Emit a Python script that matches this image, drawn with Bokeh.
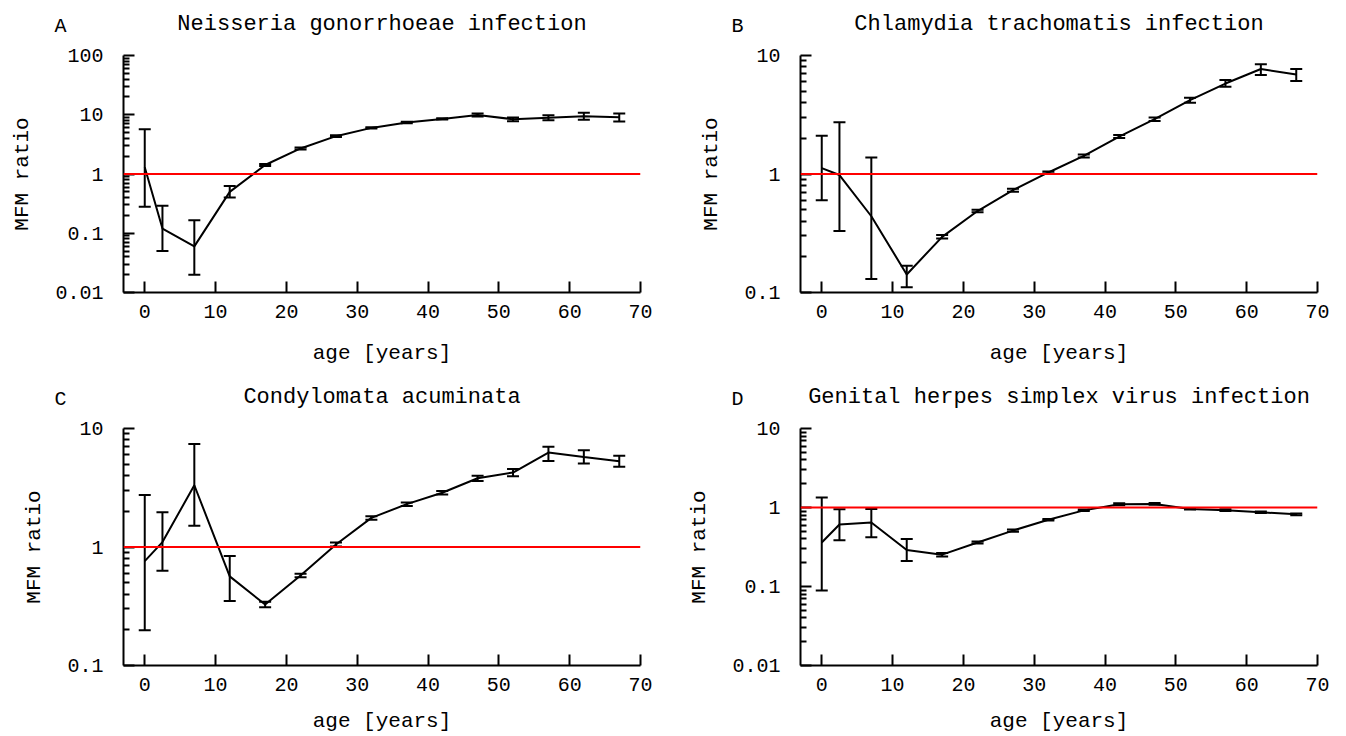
from bokeh.plotting import figure
from bokeh.layouts import column, row
from bokeh.models import (ColumnDataSource, Whisker, TeeHead, Span, Label,
                          FixedTicker, CustomJSTickFormatter)
from bokeh.embed import file_html
from bokeh.resources import INLINE

FONT = "Liberation Mono"

ages = [0, 2.5, 7, 12, 17, 22, 27, 32, 37, 42, 47, 52, 57, 62, 67]

ng_mid = [1.3, 0.12, 0.06, 0.5, 1.42, 2.7, 4.35, 6.0, 7.4, 8.5, 9.9, 8.4, 8.9, 9.4, 9.1]
ng_lo = [0.28, 0.05, 0.02, 0.40, 1.36, 2.6, 4.2, 5.85, 7.2, 8.3, 9.3, 7.8, 8.1, 8.2, 7.7]
ng_hi = [5.7, 0.29, 0.166, 0.63, 1.48, 2.8, 4.5, 6.15, 7.6, 8.75, 10.5, 9.0, 9.8, 10.8, 10.5]

ct_mid = [1.12, 0.98, 0.44, 0.142, 0.295, 0.487, 0.73, 1.03, 1.42, 2.07, 2.9, 4.2, 5.8, 7.7, 6.9]
ct_lo = [0.6, 0.33, 0.13, 0.111, 0.285, 0.475, 0.71, 1.01, 1.38, 2.01, 2.8, 4.0, 5.45, 6.85, 6.1]
ct_hi = [2.1, 2.73, 1.38, 0.168, 0.305, 0.5, 0.75, 1.05, 1.46, 2.13, 3.0, 4.4, 6.2, 8.45, 7.7]

ca_mid = [0.76, 1.1, 3.32, 0.565, 0.327, 0.575, 1.05, 1.76, 2.3, 2.87, 3.8, 4.25, 6.27, 5.76, 5.3]
ca_lo = [0.198, 0.63, 1.51, 0.35, 0.31, 0.555, 1.01, 1.7, 2.22, 2.77, 3.6, 3.95, 5.33, 5.06, 4.75]
ca_hi = [2.75, 1.96, 7.4, 0.84, 0.345, 0.595, 1.09, 1.82, 2.38, 2.97, 4.0, 4.55, 7.0, 6.55, 5.9]

hsv_mid = [0.36, 0.61, 0.645, 0.29, 0.253, 0.36, 0.51, 0.70, 0.92, 1.10, 1.11, 0.96, 0.925, 0.87, 0.82]
hsv_lo = [0.089, 0.385, 0.42, 0.21, 0.24, 0.35, 0.495, 0.685, 0.90, 1.07, 1.08, 0.94, 0.90, 0.85, 0.80]
hsv_hi = [1.34, 0.95, 0.96, 0.40, 0.265, 0.37, 0.525, 0.715, 0.94, 1.13, 1.14, 0.98, 0.95, 0.89, 0.84]

x_ticks = [0, 10, 20, 30, 40, 50, 60, 70]

FRAME_W = 517
FRAME_H = 237


def decade_ticks(lo_exp, hi_exp):
    major = [10.0 ** e for e in range(lo_exp, hi_exp + 1)]
    minor = [m * 10.0 ** e for e in range(lo_exp, hi_exp) for m in range(2, 10)]
    return major, minor


def panel(title, letter, mid, lo, hi, exps, w, h, left, right, top, bottom, xlab_standoff):
    major, minor = decade_ticks(*exps)
    p = figure(width=w, height=h, y_axis_type="log",
               x_range=(-3, 70), y_range=(major[0], major[-1]),
               output_backend="svg", toolbar_location=None,
               min_border_left=left, min_border_right=right,
               min_border_top=top, min_border_bottom=bottom)
    p.outline_line_color = None
    p.grid.visible = False

    for ax in (p.xaxis[0], p.yaxis[0]):
        ax.axis_line_width = 2
        ax.axis_line_color = "black"
        ax.major_tick_line_width = 2
        ax.major_tick_line_color = "black"
        ax.major_tick_in = 11
        ax.major_tick_out = 0
        ax.minor_tick_line_width = 2
        ax.minor_tick_line_color = "black"
        ax.minor_tick_in = 6
        ax.minor_tick_out = 0
        ax.major_label_text_font = FONT
        ax.major_label_text_font_size = "20px"
        ax.major_label_text_color = "black"
        ax.axis_label_text_font = FONT
        ax.axis_label_text_font_size = "21px"
        ax.axis_label_text_font_style = "normal"
        ax.axis_label_text_color = "black"

    p.xaxis.ticker = FixedTicker(ticks=x_ticks, minor_ticks=[])
    p.xaxis.axis_label = "age [years]"
    p.xaxis.major_label_standoff = 12
    p.xaxis.axis_label_standoff = xlab_standoff

    p.yaxis.ticker = FixedTicker(ticks=major, minor_ticks=minor)
    p.yaxis.formatter = CustomJSTickFormatter(
        code="return String(parseFloat(tick.toPrecision(6)));")
    p.yaxis.axis_label = "MFM ratio"
    p.yaxis.major_label_standoff = 20
    p.yaxis.axis_label_standoff = 18

    p.add_layout(Span(location=1, dimension="width", line_color="red",
                      line_width=2))

    src = ColumnDataSource(dict(x=ages, y=mid, lo=lo, hi=hi))
    p.line("x", "y", source=src, line_color="black", line_width=2)
    p.add_layout(Whisker(source=src, base="x", upper="hi", lower="lo",
                         dimension="height", line_color="black", line_width=2,
                         upper_head=TeeHead(size=12, line_width=2, line_color="black"),
                         lower_head=TeeHead(size=12, line_width=2, line_color="black")))

    # title in the "above" side panel, panel letter in the "right" side panel;
    # side-panel annotations are not clipped to the frame
    p.add_layout(Label(x=FRAME_W / 2, y=31, x_units="screen", y_units="screen",
                       text=title, text_font=FONT, text_font_size="22px",
                       text_align="center", text_baseline="middle",
                       text_color="black"), "above")
    p.add_layout(Label(x=-(FRAME_W + 63), y=FRAME_H + 29, x_units="screen", y_units="screen",
                       text=letter, text_font=FONT, text_font_size="20px",
                       text_align="center", text_baseline="middle",
                       text_color="black"), "right")
    return p


pA = panel("Neisseria gonorrhoeae infection", "A", ng_mid, ng_lo, ng_hi,
           (-2, 2), 678, 373, 123, 38, 55, 81, 21)
pB = panel("Chlamydia trachomatis infection", "B", ct_mid, ct_lo, ct_hi,
           (-1, 1), 660, 373, 122, 21, 55, 81, 21)
pC = panel("Condylomata acuminata", "C", ca_mid, ca_lo, ca_hi,
           (-1, 1), 678, 363, 123, 38, 55, 71, 16)
pD = panel("Genital herpes simplex virus infection", "D", hsv_mid, hsv_lo, hsv_hi,
           (-2, 1), 660, 363, 122, 21, 55, 71, 16)

layout = column(row(pA, pB), row(pC, pD))

open("out.html", "w").write(file_html(layout, INLINE))
